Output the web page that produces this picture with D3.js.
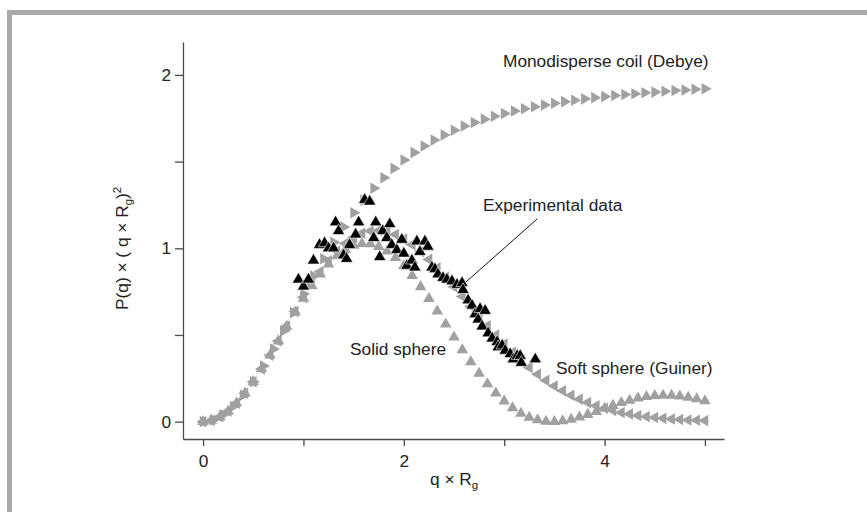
<!DOCTYPE html>
<html>
<head>
<meta charset="utf-8">
<script src="https://cdn.jsdelivr.net/npm/d3@7"></script>
<style>
  html, body { margin: 0; padding: 0; background: #ffffff; }
  svg { display: block; font-family: "Liberation Sans", Arial, Helvetica, sans-serif; }
</style>
</head>
<body>
<svg id="chart" width="867" height="512"></svg>
<script>
// ---- Kratky plot data: P(q) x (q x Rg)^2 against q x Rg ----

// Monodisperse coil (Debye)
const qDebye = [0, 0.1, 0.2, 0.3, 0.4, 0.5, 0.6, 0.7, 0.8, 0.9, 1.0, 1.1, 1.2, 1.3, 1.4, 1.5, 1.6, 1.7, 1.8, 1.9,
  2.0, 2.1, 2.2, 2.3, 2.4, 2.5, 2.6, 2.7, 2.8, 2.9, 3.0, 3.1, 3.2, 3.3, 3.4, 3.5, 3.6, 3.7, 3.8, 3.9,
  4.0, 4.1, 4.2, 4.3, 4.4, 4.5, 4.6, 4.7, 4.8, 4.9, 5.0];
const pDebye = [0, 0.010, 0.040, 0.087, 0.152, 0.230, 0.321, 0.419, 0.523, 0.629, 0.736, 0.840, 0.940, 1.035, 1.123,
  1.205, 1.279, 1.346, 1.407, 1.461, 1.509, 1.552, 1.590, 1.624, 1.654, 1.681, 1.705, 1.726, 1.745, 1.762,
  1.778, 1.792, 1.805, 1.816, 1.827, 1.837, 1.846, 1.854, 1.862, 1.869, 1.875, 1.881, 1.887, 1.892, 1.897,
  1.901, 1.906, 1.910, 1.913, 1.917, 1.920];

// Shared q grid for the two sphere models
const qModel = [0, 0.083, 0.167, 0.25, 0.333, 0.417, 0.5, 0.583, 0.667, 0.75, 0.833, 0.917, 1, 1.083, 1.167, 1.25,
  1.333, 1.417, 1.5, 1.583, 1.667, 1.75, 1.833, 1.917, 2, 2.083, 2.167, 2.25, 2.333, 2.417, 2.5, 2.583, 2.667,
  2.75, 2.833, 2.917, 3, 3.083, 3.167, 3.25, 3.333, 3.417, 3.5, 3.583, 3.667, 3.75, 3.833, 3.917, 4, 4.083,
  4.167, 4.25, 4.333, 4.417, 4.5, 4.583, 4.667, 4.75, 4.833, 4.917, 5];

// Soft sphere (Guinier)
const pGuinier = [0, 0.007, 0.028, 0.061, 0.107, 0.164, 0.230, 0.304, 0.383, 0.466, 0.551, 0.635, 0.717, 0.794,
  0.865, 0.928, 0.983, 1.028, 1.063, 1.087, 1.100, 1.103, 1.096, 1.080, 1.054, 1.021, 0.982, 0.936, 0.887,
  0.834, 0.778, 0.722, 0.665, 0.608, 0.553, 0.499, 0.448, 0.400, 0.354, 0.312, 0.274, 0.238, 0.206, 0.178,
  0.152, 0.130, 0.110, 0.092, 0.077, 0.064, 0.053, 0.044, 0.036, 0.029, 0.024, 0.019, 0.015, 0.012, 0.010,
  0.008, 0.006];

// Solid sphere
const pSphere = [0, 0.007, 0.028, 0.061, 0.107, 0.164, 0.230, 0.304, 0.383, 0.465, 0.549, 0.631, 0.711, 0.784,
  0.851, 0.909, 0.956, 0.992, 1.016, 1.027, 1.025, 1.010, 0.984, 0.946, 0.898, 0.842, 0.778, 0.709, 0.637,
  0.562, 0.487, 0.414, 0.344, 0.278, 0.218, 0.164, 0.118, 0.079, 0.048, 0.025, 0.010, 0.002, 0.000, 0.004,
  0.013, 0.026, 0.041, 0.058, 0.076, 0.093, 0.109, 0.123, 0.135, 0.144, 0.150, 0.152, 0.152, 0.147, 0.140,
  0.131, 0.119];

// Experimental data
const qExp = [0.95, 1.00, 1.05, 1.10, 1.16, 1.21, 1.25, 1.30, 1.32, 1.35, 1.40, 1.43, 1.46, 1.52, 1.55, 1.61,
  1.66, 1.70, 1.72, 1.76, 1.79, 1.83, 1.86, 1.88, 1.93, 1.98, 2.00, 2.03, 2.08, 2.11, 2.13, 2.16, 2.21, 2.24,
  2.28, 2.31, 2.34, 2.39, 2.43, 2.48, 2.53, 2.58, 2.59, 2.64, 2.68, 2.71, 2.74, 2.76, 2.78, 2.81, 2.84, 2.88,
  2.93, 2.94, 2.98, 3.01, 3.06, 3.09, 3.13, 3.16, 3.17, 3.31];
const pExp = [0.82, 0.78, 0.82, 0.93, 1.02, 1.03, 1.00, 1.00, 1.15, 1.10, 0.96, 0.94, 1.02, 1.08, 1.15, 1.28,
  1.27, 1.06, 1.15, 0.95, 1.10, 1.06, 1.14, 1.02, 0.99, 1.05, 0.97, 0.90, 0.93, 0.89, 1.04, 0.98, 1.04, 1.01,
  0.89, 0.88, 0.85, 0.83, 0.82, 0.81, 0.79, 0.80, 0.76, 0.70, 0.67, 0.62, 0.59, 0.65, 0.55, 0.64, 0.51, 0.48,
  0.46, 0.43, 0.44, 0.41, 0.39, 0.36, 0.38, 0.38, 0.34, 0.36];

// Axis ticks
const xTicks = [0, 1, 2, 3, 4, 5];
const xTickLabels = ["0", "", "2", "", "4", ""];
const yTicks = [0, 0.5, 1, 1.5, 2];
const yTickLabels = ["0", "", "1", "", "2"];

// Callout pointing at the experimental curve (data coordinates)
const calloutQ = [3.33, 2.62];
const calloutP = [1.17, 0.806];

// ---- drawing ----
const W = 867, H = 512;
const svg = d3.select("#chart");
const GRAY = "#a0a0a0";
const AXIS = "#4a4a4a";
const TEXT = "#222222";
const FS = 17.3;

// grey frame along top and left edge
svg.append("rect").attr("x", 7).attr("y", 10).attr("width", W - 7).attr("height", 5).attr("fill", "#aaaaaa");
svg.append("rect").attr("x", 7).attr("y", 10).attr("width", 5).attr("height", H - 10).attr("fill", "#aaaaaa");

const x = d3.scaleLinear().domain([-0.2, 5.19]).range([183, 724]);
const y = d3.scaleLinear().domain([-0.1, 2.19]).range([439, 42]);

const xAxis = d3.axisBottom(x).tickValues(xTicks)
  .tickFormat((d, i) => xTickLabels[i]).tickSize(7).tickPadding(9).tickSizeOuter(0);
const yAxis = d3.axisLeft(y).tickValues(yTicks)
  .tickFormat((d, i) => yTickLabels[i]).tickSize(8).tickPadding(4).tickSizeOuter(0);

const gx = svg.append("g").attr("transform", `translate(0,${y.range()[0]})`).call(xAxis);
const gy = svg.append("g").attr("transform", `translate(${x.range()[0]},0)`).call(yAxis);
[gx, gy].forEach(g => {
  g.select(".domain").attr("stroke", AXIS).attr("stroke-width", 1.3);
  g.selectAll(".tick line").attr("stroke", AXIS).attr("stroke-width", 1.3);
  g.selectAll(".tick text").attr("fill", TEXT).attr("font-size", FS)
    .attr("font-family", "'Liberation Sans', Arial, sans-serif");
});

// axis titles
const yTitle = svg.append("text")
  .attr("transform", "translate(127.5,310) rotate(-90)")
  .attr("text-anchor", "start").attr("font-size", FS).attr("fill", TEXT);
yTitle.append("tspan").text("P(q) \u00d7 ( q \u00d7 R");
yTitle.append("tspan").attr("font-size", 11.5).attr("dy", 4).text("g");
yTitle.append("tspan").attr("dy", -4).text(")");
yTitle.append("tspan").attr("font-size", 11.5).attr("dy", -7).text("2");

const xTitle = svg.append("text")
  .attr("x", 430).attr("y", 485)
  .attr("text-anchor", "start").attr("font-size", FS).attr("fill", TEXT);
xTitle.append("tspan").text("q \u00d7 R");
xTitle.append("tspan").attr("font-size", 11.5).attr("dy", 4).text("g");

// markers
const grayTri = d3.symbol().type(d3.symbolTriangle).size(58)();
const blackTri = d3.symbol().type(d3.symbolTriangle).size(66)();

function drawSeries(qs, ps, angle, shape, fill, stroke) {
  svg.append("g").selectAll("path")
    .data(qs.map((q, i) => [q, ps[i]]))
    .join("path")
    .attr("d", shape)
    .attr("transform", d => `translate(${x(d[0])},${y(d[1])}) rotate(${angle})`)
    .attr("fill", fill)
    .attr("stroke", stroke || "none")
    .attr("stroke-width", stroke ? 0.6 : 0);
}

drawSeries(qModel, pGuinier, -90, grayTri, GRAY);
drawSeries(qModel, pSphere, 0, grayTri, GRAY);
drawSeries(qDebye, pDebye, 90, grayTri, GRAY);
drawSeries(qExp, pExp, 0, blackTri, "#000000", "#ffffff");

// callout line for the experimental data
svg.append("line")
  .attr("x1", x(calloutQ[0])).attr("y1", y(calloutP[0]))
  .attr("x2", x(calloutQ[1])).attr("y2", y(calloutP[1]))
  .attr("stroke", "#111").attr("stroke-width", 1);

// curve labels
const labels = [
  { t: "Monodisperse coil (Debye)", x: 503, y: 66.5 },
  { t: "Experimental data", x: 483, y: 210.5 },
  { t: "Solid sphere", x: 350, y: 355 },
  { t: "Soft sphere (Guiner)", x: 556, y: 374 }
];
svg.append("g").selectAll("text").data(labels).join("text")
  .attr("x", d => d.x).attr("y", d => d.y)
  .attr("font-size", FS).attr("fill", TEXT)
  .text(d => d.t);
</script>
</body>
</html>
